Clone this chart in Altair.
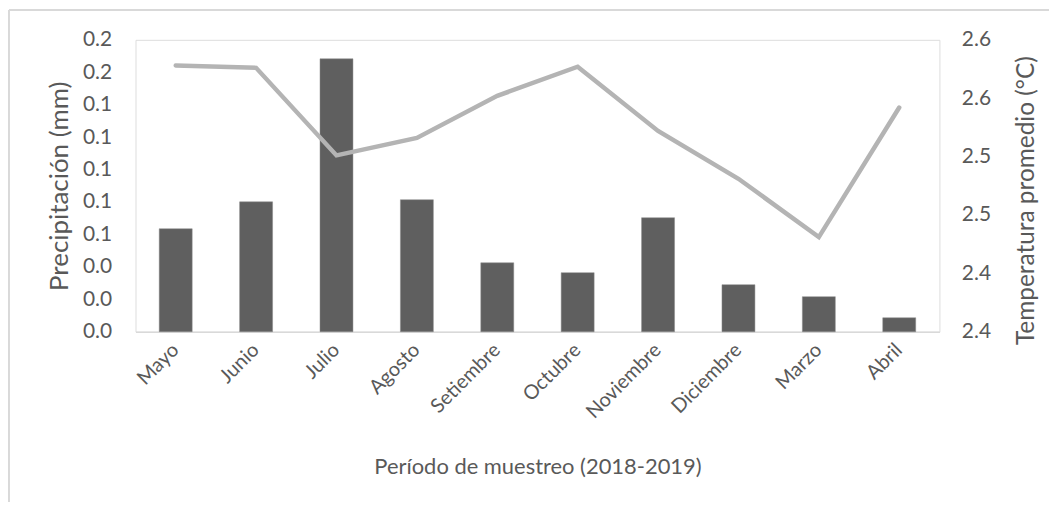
import altair as alt
import pandas as pd

months = ["Mayo", "Junio", "Julio", "Agosto", "Setiembre", "Octubre",
          "Noviembre", "Diciembre", "Marzo", "Abril"]
precip = [0.0635, 0.0801, 0.1683, 0.0814, 0.0425, 0.0364, 0.0703, 0.0290, 0.0216, 0.0086]
temp = [2.628, 2.626, 2.551, 2.566, 2.602, 2.627, 2.572, 2.531, 2.481, 2.592]

left_ticks = [0.00, 0.02, 0.04, 0.06, 0.08, 0.10, 0.12, 0.14, 0.16, 0.18]
left_labels = ["0.0", "0.0", "0.0", "0.1", "0.1", "0.1", "0.1", "0.1", "0.2", "0.2"]
right_ticks = [2.40, 2.45, 2.50, 2.55, 2.60, 2.65]
right_labels = ["2.4", "2.4", "2.5", "2.5", "2.6", "2.6"]

df = pd.DataFrame({"mes": months, "precip": precip, "temp": temp})

FONT = "Lato"
TXT = "#595959"
W, H = 807, 293

left_expr = "[" + ",".join(f"'{s}'" for s in left_labels) + "][round(datum.value/0.02)]"
right_expr = "[" + ",".join(f"'{s}'" for s in right_labels) + "][round((datum.value-2.4)/0.05)]"

x = alt.X("mes:N", sort=months,
          scale=alt.Scale(paddingInner=0.59, paddingOuter=0.295),
          axis=alt.Axis(title="Período de muestreo (2018-2019)", labelAngle=-45,
                        labelAlign="right", labelBaseline="middle",
                        labelPadding=15, ticks=False, domainColor="#d9d9d9",
                        domainWidth=1.5, titleY=135, titleBaseline="middle",
                        labelFont=FONT, titleFont=FONT, labelColor=TXT, titleColor=TXT,
                        titleFontWeight="normal",
                        labelFontSize=20, titleFontSize=22)),

bars = alt.Chart(df).mark_bar(color="#5f5f5f", stroke="#8a8a8a", strokeWidth=0.5).encode(
    x=x[0],
    y=alt.Y("precip:Q", scale=alt.Scale(domain=[0, 0.18], nice=False, zero=True),
            axis=alt.Axis(title="Precipitación (mm)", orient="left", values=left_ticks,
                          labelExpr=left_expr, grid=False, ticks=False, domain=False,
                          labelPadding=24, titleX=-76, titleBaseline="middle",
                          labelFont=FONT, titleFont=FONT, labelColor=TXT, titleColor=TXT,
                          titleFontWeight="normal",
                          labelFontSize=21, titleFontSize=26)),
)

line = alt.Chart(df).mark_line(color="#b4b4b4", strokeWidth=4.5, strokeCap="round").encode(
    x=alt.X("mes:N", sort=months),
    y=alt.Y("temp:Q", scale=alt.Scale(domain=[2.40, 2.65], nice=False, zero=False),
            axis=alt.Axis(title="Temperatura promedio (°C)", orient="right", values=right_ticks,
                          labelExpr=right_expr, grid=False, ticks=False, domain=False,
                          labelPadding=22, titleAngle=270, titleX=87, titleY=161,
                          titleBaseline="middle",
                          labelFont=FONT, titleFont=FONT, labelColor=TXT, titleColor=TXT,
                          titleFontWeight="normal",
                          labelFontSize=21, titleFontSize=24.5)),
)

border_left = alt.Chart(df).mark_rule(color="#d9d9d9", strokeWidth=1.5).encode(
    x=alt.value(-127), y=alt.value(-30), y2=alt.value(H + 200))
border_top = alt.Chart(df).mark_rule(color="#d9d9d9", strokeWidth=1.5).encode(
    x=alt.value(-127), x2=alt.value(W + 200), y=alt.value(-30))

chart = alt.layer(border_left, border_top, bars, line).resolve_scale(
    y="independent"
).properties(
    width=W, height=H,
    autosize=alt.AutoSizeParams(type="none"),
    padding={"left": 128, "top": 31, "right": 110, "bottom": 170},
).configure_view(stroke=None).configure(background="white")

chart.save("out.html", embed_options={"renderer": "svg", "actions": False})
